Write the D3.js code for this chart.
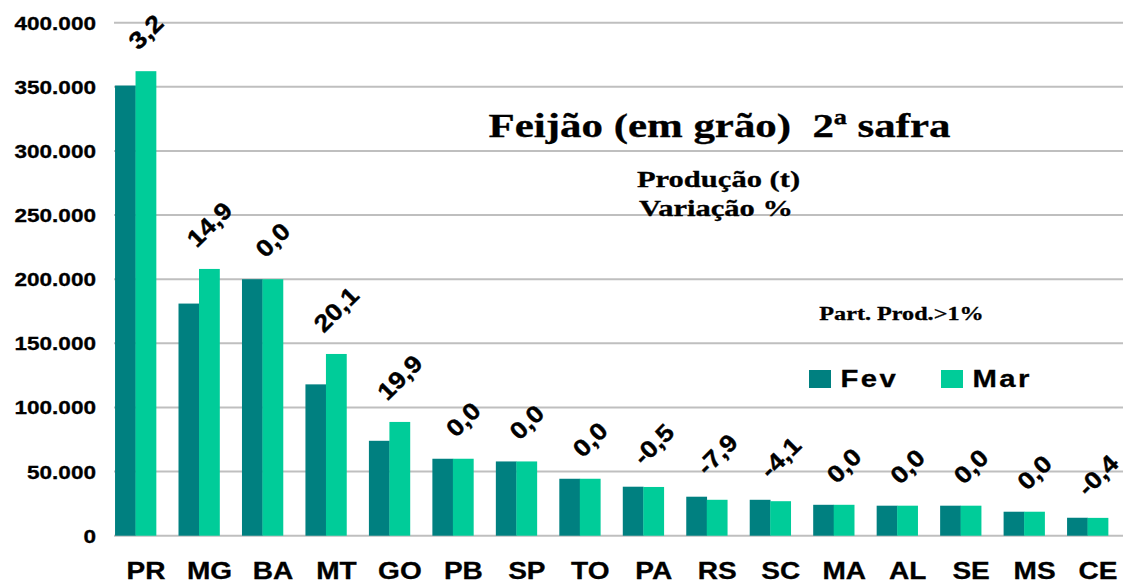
<!DOCTYPE html>
<html><head><meta charset="utf-8">
<script src="https://cdn.jsdelivr.net/npm/d3@7"></script>
<style>html,body{margin:0;padding:0;background:#fff;}svg{display:block;}</style>
</head><body>
<svg id="c" width="1123" height="582"></svg>
<script>
const categories = ["PR","MG","BA","MT","GO","PB","SP","TO","PA","RS","SC","MA","AL","SE","MS","CE"];
const fev = [351000,181000,200000,118000,74000,60000,57900,44400,38200,30400,28000,24100,23400,23400,18700,14000];
const mar = [362200,208000,200000,141700,88700,60000,57900,44400,38000,28000,26900,24100,23400,23400,18700,13900];
const variacao = ["3,2","14,9","0,0","20,1","19,9","0,0","0,0","0,0","-0,5","-7,9","-4,1","0,0","0,0","0,0","0,0","-0,4"];
const yTicks = [0,50000,100000,150000,200000,250000,300000,350000,400000];
const seriesNames = ["Fev","Mar"];
const colors = ["#008080","#00CC99"];

const svg = d3.select("#c");
const SX = 1.22;
const x = d3.scaleBand().domain(categories).range([103.8,1119.3]).paddingInner(0.354).paddingOuter(0.177);
const xs = d3.scaleBand().domain(seriesNames).range([0,x.bandwidth()]).padding(0);
const y = d3.scaleLinear().domain([0,400000]).range([535.7,22.7]);
const fmt = v => d3.format(",")(v).replace(/,/g,".");
const sans = "'Liberation Sans',Arial,sans-serif";

// gridlines
svg.append("g").selectAll("line").data(yTicks).join("line")
  .attr("x1",114).attr("x2",1123)
  .attr("y1",d=>y(d)).attr("y2",d=>y(d))
  .attr("stroke","#bfbfbf").attr("stroke-width",2);

// y tick labels
svg.append("g").selectAll("text").data(yTicks).join("text")
  .attr("transform",d=>`translate(96,${y(d)+7}) scale(${SX},1)`)
  .attr("text-anchor","end")
  .style("font-family",sans).style("font-weight","bold").style("font-size","18.5px")
  .attr("stroke","#000").attr("stroke-width",0.3)
  .attr("fill","#000").text(d=>fmt(d));

// title texts (Times)
const tfont = "'Liberation Serif','Times New Roman',serif";
function ttext(str,cx,by,size){
  svg.append("text").attr("transform",`translate(${cx},${by}) scale(1.3,1)`)
    .attr("text-anchor","middle").style("font-family",tfont).style("font-weight","bold")
    .style("white-space","pre").attr("xml:space","preserve")
    .attr("stroke","#000").attr("stroke-width",0.3)
    .style("font-size",size+"px").attr("fill","#000").text(str);
}

// bars
const data = categories.map((c,i)=>({c, vals:[fev[i],mar[i]], lab:variacao[i]}));
const groups = svg.append("g").selectAll("g").data(data).join("g")
  .attr("transform",d=>`translate(${x(d.c)},0)`);
groups.selectAll("rect").data(d=>d.vals.map((v,j)=>({s:seriesNames[j],v,j}))).join("rect")
  .attr("x",d=>xs(d.s)).attr("width",xs.bandwidth()+0.3)
  .attr("y",d=>y(d.v)).attr("height",d=>y(0)-y(d.v))
  .attr("fill",d=>colors[d.j]);

ttext("Feijão (em grão)  2ª safra",719.5,137,33);
ttext("Produção (t)",718.5,186.5,23.5);
ttext("Variação %",716,215.5,23.5);
ttext("Part. Prod.>1%",901.5,320,18.6);

// x labels
svg.append("g").selectAll("text").data(categories).join("text")
  .attr("transform",d=>`translate(${x(d)+x.bandwidth()/2+10.5},579) scale(${SX},1)`)
  .attr("text-anchor","middle")
  .style("font-family",sans).style("font-weight","bold").style("font-size","23px")
  .attr("stroke","#000").attr("stroke-width",0.3)
  .attr("fill","#000").text(d=>d);

// variation labels
const lblSize = 24, gap = 20, LSX = 1.12;
const lg = svg.append("g");
data.forEach((d,i)=>{
  const cx = x(d.c)+xs("Mar")+xs.bandwidth()/2;
  const t = lg.append("text").attr("text-anchor","middle").attr("dominant-baseline","central")
    .style("font-family",sans).style("font-weight","bold")
    .attr("stroke","#000").attr("stroke-width",0.4)
    .style("font-size",lblSize+"px").attr("fill","#000").text(d.lab);
  const W = t.node().getComputedTextLength()*LSX;
  const H = lblSize*0.72;
  const h = (W+H)*Math.SQRT1_2;
  const top = y(Math.max(d.vals[0],d.vals[1]));
  const cy = top - gap - h/2;
  t.attr("transform",`translate(${cx},${cy}) rotate(-45) scale(${LSX},1)`);
});

// legend
const legX = [809,941];
seriesNames.forEach((s,j)=>{
  svg.append("rect").attr("x",legX[j]).attr("y",370).attr("width",22).attr("height",18).attr("fill",colors[j]);
  svg.append("text").attr("transform",`translate(${legX[j]+31.5},387) scale(${SX},1)`)
    .style("font-family",sans).style("font-weight","bold")
    .attr("stroke","#000").attr("stroke-width",0.3)
    .style("font-size","24px").style("letter-spacing","2px").attr("fill","#000").text(s);
});
</script>
</body></html>
